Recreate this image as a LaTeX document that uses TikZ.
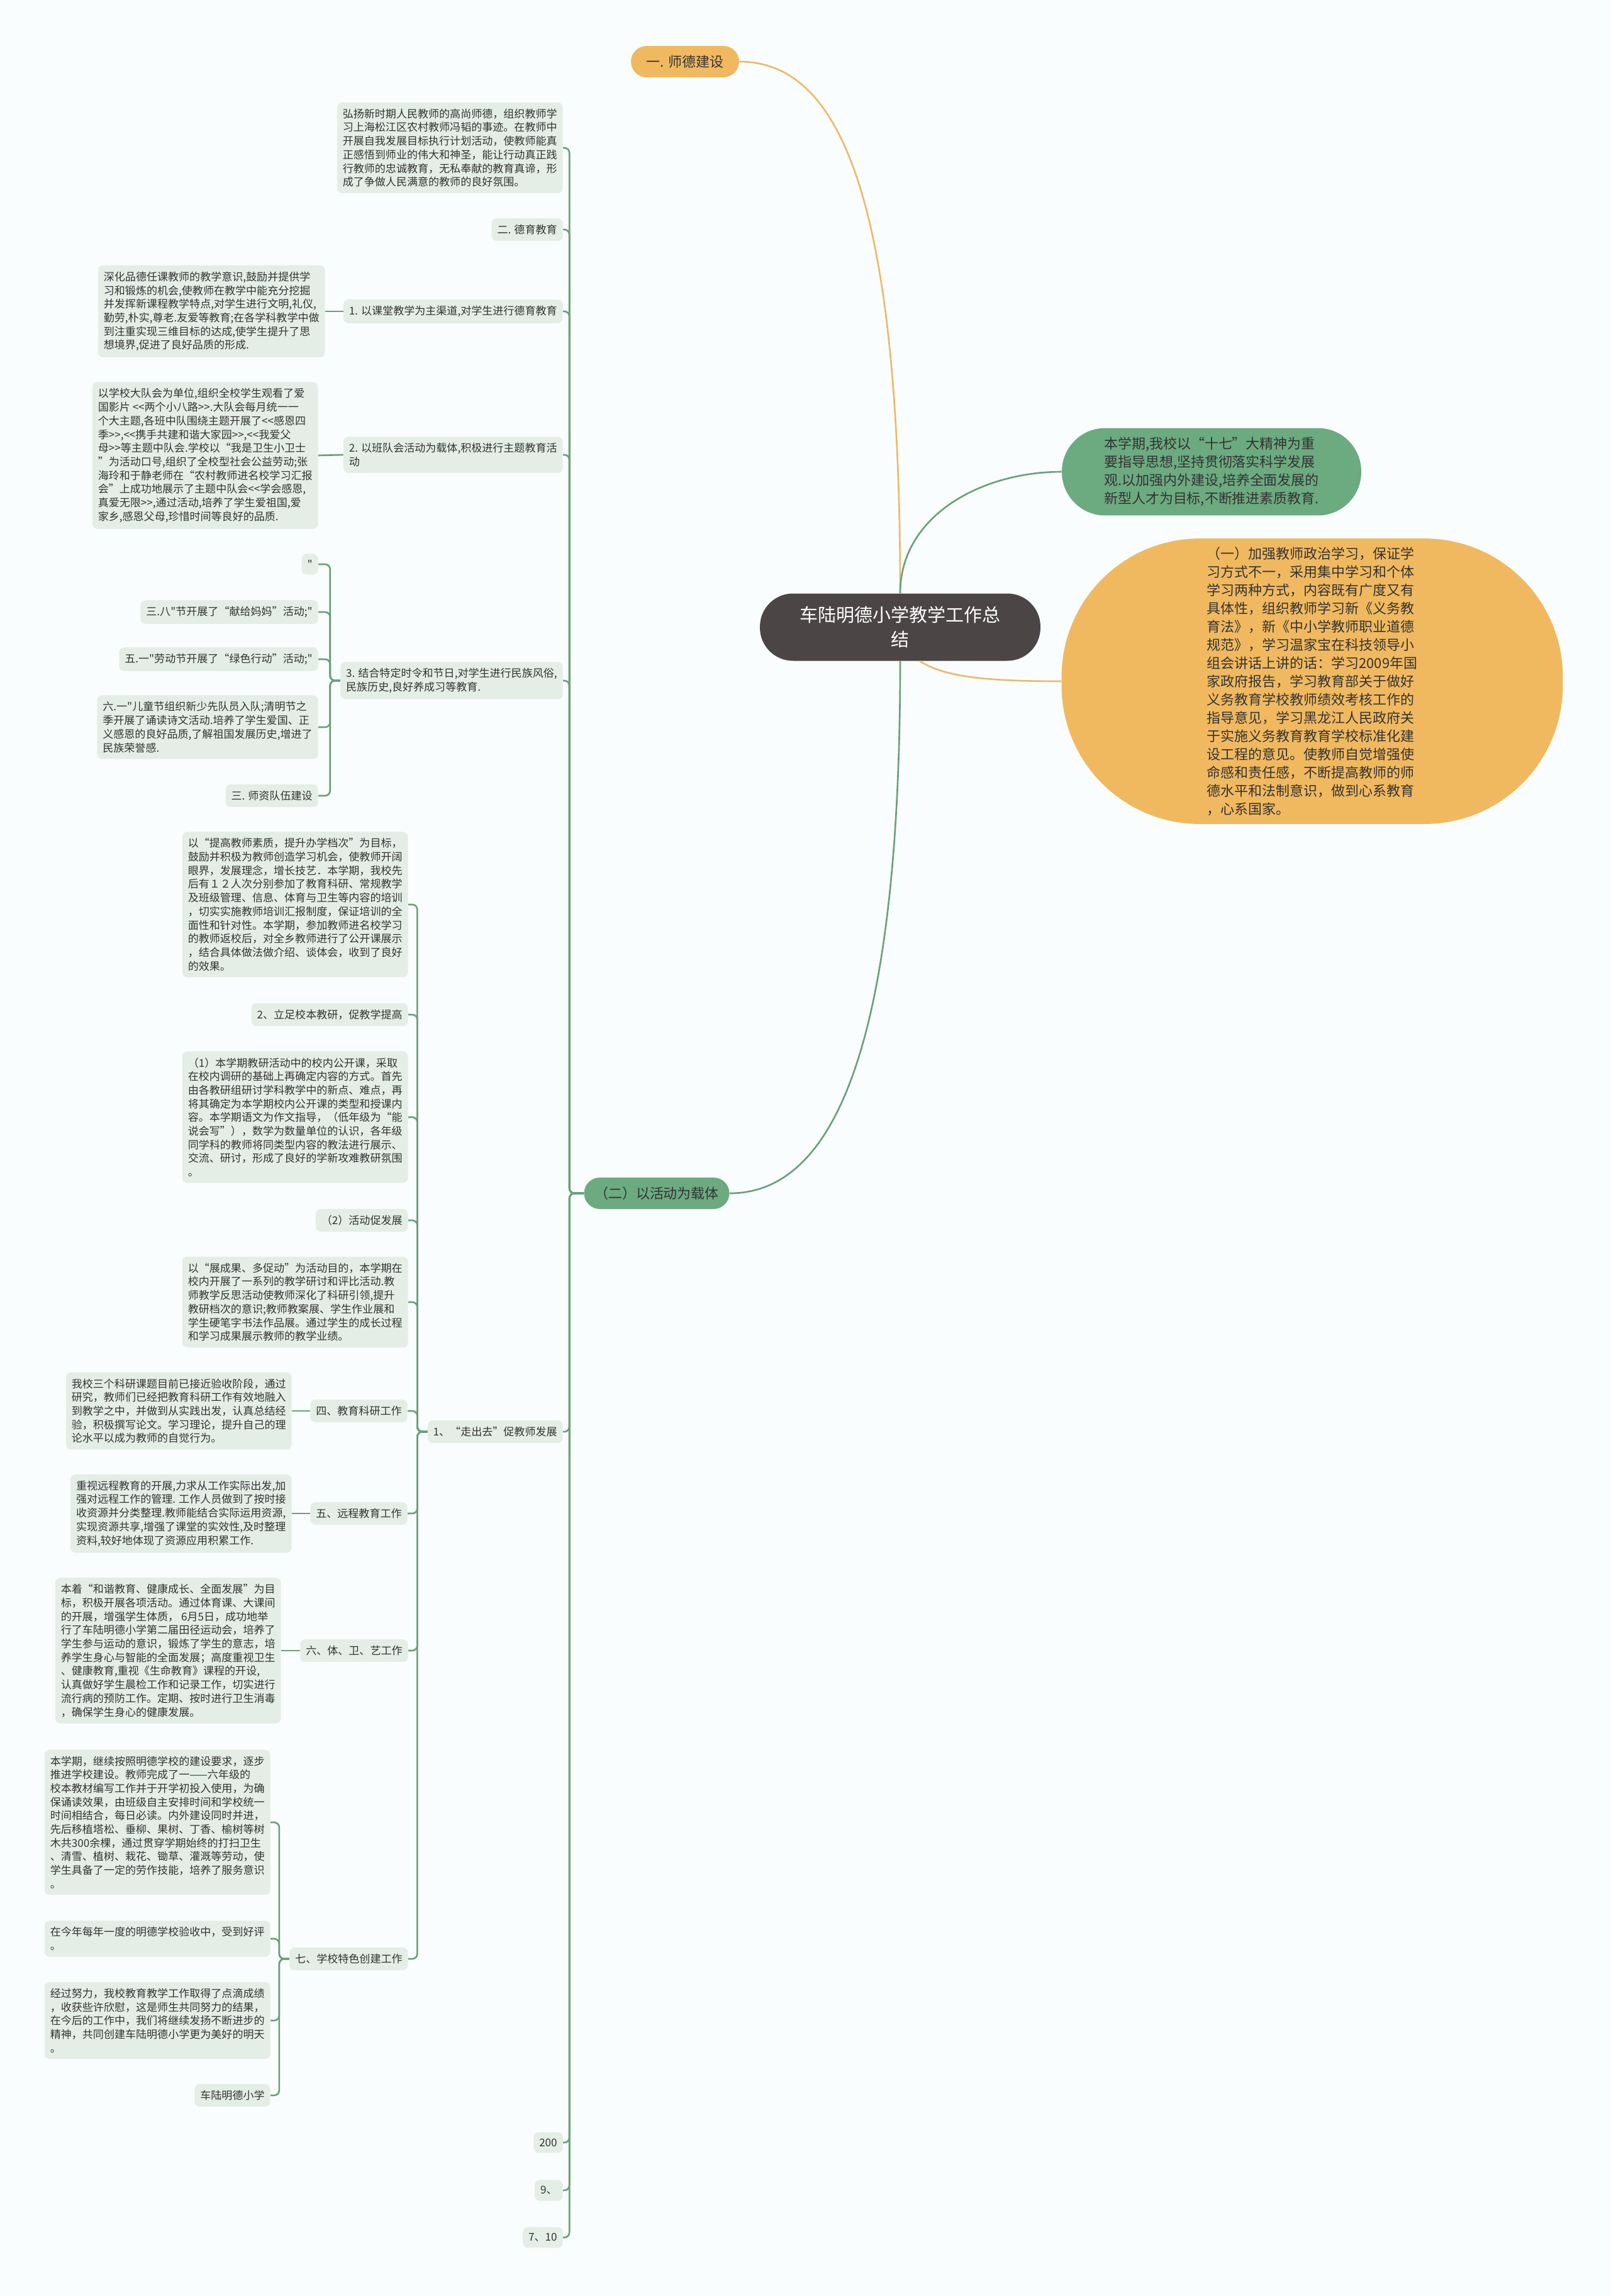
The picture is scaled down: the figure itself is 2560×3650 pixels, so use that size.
\documentclass[tikz,border=0pt]{standalone}
\usepackage{fontspec}
\newfontfamily\cjk{Noto Sans CJK SC}
\definecolor{pagebg}{HTML}{FAFDFD}
\definecolor{leafbg}{HTML}{E4EEE7}
\definecolor{leaftxt}{HTML}{333333}
\definecolor{ngreen}{HTML}{6CAA80}
\definecolor{norange}{HTML}{F0B960}
\definecolor{lgreen}{HTML}{6AA07A}
\definecolor{lorange}{HTML}{EDBA68}
\definecolor{rootbg}{HTML}{4B4546}

\begin{document}
\begin{tikzpicture}[x=0.02cm, y=-0.02cm,
  leaf/.style={anchor=east, fill=leafbg, text=leaftxt, rounded corners=0.16cm, inner xsep=0.18cm, inner ysep=0.2cm, align=left, font=\cjk\fontsize{9.7}{12.35}\selectfont},
  main/.style={text=leaftxt, inner sep=0pt, align=left, font=\cjk\fontsize{12.5}{16.5}\selectfont},
  gline/.style={draw=lgreen, line width=1.5pt, rounded corners=0.16cm},
  oline/.style={draw=lorange, line width=1.5pt}]
\fill[pagebg] (0,0) rectangle (2560,3650);
\useasboundingbox (0,0) rectangle (2560,3650);

\node[fill=rootbg, text=white, rounded corners=1.05cm, minimum width=8.92cm, minimum height=2.14cm, align=center, font=\cjk\fontsize{16.5}{22.2}\selectfont] (root) at (1431,997) {车陆明德小学教学工作总\\结};
\node[main, fill=norange, align=center, rounded corners=0.5cm, minimum width=3.44cm, minimum height=1cm] (sd) at (1089,98) {一. 师德建设};
\node[main, fill=ngreen, align=center, rounded corners=0.5cm, minimum width=4.62cm, minimum height=1cm] (act) at (1044,1897) {（二）以活动为载体};
\node[main, fill=ngreen, rounded corners=1.38cm, minimum width=9.52cm, minimum height=2.78cm] (aim) at (1926,750) {本学期,我校以“十七”大精神为重\\要指导思想,坚持贯彻落实科学发展\\观.以加强内外建设,培养全面发展的\\新型人才为目标,不断推进素质教育.};
\node[main, fill=norange, rounded corners=4.4cm, minimum width=15.94cm, minimum height=9.08cm] (pol) at (2086,1083) {（一）加强教师政治学习，保证学\\习方式不一，采用集中学习和个体\\学习两种方式，内容既有广度又有\\具体性，组织教师学习新《义务教\\育法》，新《中小学教师职业道德\\规范》，学习温家宝在科技领导小\\组会讲话上讲的话：学习2009年国\\家政府报告，学习教育部关于做好\\义务教育学校教师绩效考核工作的\\指导意见，学习黑龙江人民政府关\\于实施义务教育教育学校标准化建\\设工程的意见。使教师自觉增强使\\命感和责任感，不断提高教师的师\\德水平和法制意识，做到心系教育\\，心系国家。};

\node[leaf] (hy) at (895,235) {弘扬新时期人民教师的高尚师德，组织教师学\\习上海松江区农村教师冯韬的事迹。在教师中\\开展自我发展目标执行计划活动，使教师能真\\正感悟到师业的伟大和神圣，能让行动真正践\\行教师的忠诚教育，无私奉献的教育真谛，形\\成了争做人民满意的教师的良好氛围。};
\node[leaf] (dy) at (895,365) {二. 德育教育};
\node[leaf] (kt) at (895,495) {1. 以课堂教学为主渠道,对学生进行德育教育};
\node[leaf] (kttxt) at (517,495) {深化品德任课教师的教学意识,鼓励并提供学\\习和锻炼的机会,使教师在教学中能充分挖掘\\并发挥新课程教学特点,对学生进行文明,礼仪,\\勤劳,朴实,尊老.友爱等教育;在各学科教学中做\\到注重实现三维目标的达成,使学生提升了思\\想境界,促进了良好品质的形成.};
\node[leaf] (bd) at (895,723) {2. 以班队会活动为载体,积极进行主题教育活\\动};
\node[leaf] (bdtxt) at (506,724) {以学校大队会为单位,组织全校学生观看了爱\\国影片 <<两个小八路>>.大队会每月统一一\\个大主题,各班中队围绕主题开展了<<感恩四\\季>>,<<携手共建和谐大家园>>,<<我爱父\\母>>等主题中队会.学校以“我是卫生小卫士\\”为活动口号,组织了全校型社会公益劳动;张\\海玲和于静老师在“农村教师进名校学习汇报\\会”上成功地展示了主题中队会<<学会感恩,\\真爱无限>>,通过活动,培养了学生爱祖国,爱\\家乡,感恩父母,珍惜时间等良好的品质.};
\node[leaf] (jh) at (895,1082) {3. 结合特定时令和节日,对学生进行民族风俗,\\民族历史,良好养成习等教育.};
\node[leaf] (q1) at (506,897) {"};
\node[leaf] (sb) at (506,973) {三.八"节开展了“献给妈妈”活动;"};
\node[leaf] (wy) at (506,1048) {五.一"劳动节开展了“绿色行动”活动;"};
\node[leaf] (ly) at (506,1156) {六.一"儿童节组织新少先队员入队;清明节之\\季开展了诵读诗文活动.培养了学生爱国、正\\义感恩的良好品质,了解祖国发展历史,增进了\\民族荣誉感.};
\node[leaf] (sz) at (506,1265) {三. 师资队伍建设};

\node[leaf] (zc) at (895,2276) {1、“走出去”促教师发展};
\node[leaf] (ts) at (649,1438) {以“提高教师素质，提升办学档次”为目标，\\鼓励并积极为教师创造学习机会，使教师开阔\\眼界，发展理念，增长技艺．本学期，我校先\\后有１２人次分别参加了教育科研、常规教学\\及班级管理、信息、体育与卫生等内容的培训\\，切实实施教师培训汇报制度，保证培训的全\\面性和针对性。本学期，参加教师进名校学习\\的教师返校后，对全乡教师进行了公开课展示\\，结合具体做法做介绍、谈体会，收到了良好\\的效果。};
\node[leaf] (lz) at (649,1613) {2、立足校本教研，促教学提高};
\node[leaf] (p1) at (649,1776) {（1）本学期教研活动中的校内公开课，采取\\在校内调研的基础上再确定内容的方式。首先\\由各教研组研讨学科教学中的新点、难点，再\\将其确定为本学期校内公开课的类型和授课内\\容。本学期语文为作文指导，（低年级为“能\\说会写”），数学为数量单位的认识，各年级\\同学科的教师将同类型内容的教法进行展示、\\交流、研讨，形成了良好的学新攻难教研氛围\\。};
\node[leaf] (p2) at (649,1940) {（2）活动促发展};
\node[leaf] (zcg) at (649,2070) {以“展成果、多促动”为活动目的，本学期在\\校内开展了一系列的教学研讨和评比活动.教\\师教学反思活动使教师深化了科研引领,提升\\教研档次的意识;教师教案展、学生作业展和\\学生硬笔字书法作品展。通过学生的成长过程\\和学习成果展示教师的教学业绩。};
\node[leaf] (ky) at (648,2243) {四、教育科研工作};
\node[leaf] (kytxt) at (464,2243) {我校三个科研课题目前已接近验收阶段，通过\\研究，教师们已经把教育科研工作有效地融入\\到教学之中，并做到从实践出发，认真总结经\\验，积极撰写论文。学习理论，提升自己的理\\论水平以成为教师的自觉行为。};
\node[leaf] (yc) at (648,2406) {五、远程教育工作};
\node[leaf] (yctxt) at (464,2406) {重视远程教育的开展,力求从工作实际出发,加\\强对远程工作的管理. 工作人员做到了按时接\\收资源并分类整理.教师能结合实际运用资源,\\实现资源共享,增强了课堂的实效性,及时整理\\资料,较好地体现了资源应用积累工作.};
\node[leaf] (tw) at (649,2624) {六、体、卫、艺工作};
\node[leaf] (twtxt) at (447,2624) {本着“和谐教育、健康成长、全面发展”为目\\标，积极开展各项活动。通过体育课、大课间\\的开展，增强学生体质， 6月5日，成功地举\\行了车陆明德小学第二届田径运动会，培养了\\学生参与运动的意识，锻炼了学生的意志，培\\养学生身心与智能的全面发展；高度重视卫生\\、健康教育,重视《生命教育》课程的开设,\\认真做好学生晨检工作和记录工作，切实进行\\流行病的预防工作。定期、按时进行卫生消毒\\，确保学生身心的健康发展。};
\node[leaf] (qi) at (649,3114) {七、学校特色创建工作};
\node[leaf] (jx) at (430,2897) {本学期，继续按照明德学校的建设要求，逐步\\推进学校建设。教师完成了一——六年级的\\校本教材编写工作并于开学初投入使用，为确\\保诵读效果，由班级自主安排时间和学校统一\\时间相结合，每日必读。内外建设同时并进，\\先后移植塔松、垂柳、果树、丁香、榆树等树\\木共300余棵，通过贯穿学期始终的打扫卫生\\、清雪、植树、栽花、锄草、灌溉等劳动，使\\学生具备了一定的劳作技能，培养了服务意识\\。};
\node[leaf] (ys) at (430,3082) {在今年每年一度的明德学校验收中，受到好评\\。};
\node[leaf] (jg) at (430,3212) {经过努力，我校教育教学工作取得了点滴成绩\\，收获些许欣慰，这是师生共同努力的结果，\\在今后的工作中，我们将继续发扬不断进步的\\精神，共同创建车陆明德小学更为美好的明天\\。};
\node[leaf] (cl) at (430,3331) {车陆明德小学};

\node[leaf] (n200) at (895,3406) {200};
\node[leaf] (n9) at (895,3482) {9、};
\node[leaf] (n710) at (895,3557) {7、10};

\draw[oline] (root.north) .. controls (1431,300) and (1330,98) .. (sd.east);
\draw[gline] (root.north) .. controls (1431,820) and (1560,750) .. (aim.west);
\draw[oline] (root.-60) .. controls (1500,1075) and (1560,1083) .. (pol.west);
\draw[gline] (root.south) .. controls (1431,1650) and (1330,1897) .. (act.east);

\foreach \c in {hy,dy,kt,bd,jh,zc,n200,n9,n710}
  \draw[gline] (act.west) -- ++(-23,0) |- (\c.east);
\foreach \c in {q1,sb,wy,ly,sz}
  \draw[gline] (jh.west) -- ++(-16,0) |- (\c.east);
\foreach \c in {ts,lz,p1,p2,zcg,ky,yc,tw,qi}
  \draw[gline] (zc.west) -- ++(-16,0) |- (\c.east);
\foreach \c in {jx,ys,jg,cl}
  \draw[gline] (qi.west) -- ++(-16,0) |- (\c.east);
\draw[gline] (kt.west) -- (kttxt.east);
\draw[gline] (bd.west) -- (bdtxt.east);
\draw[gline] (ky.west) -- (kytxt.east);
\draw[gline] (yc.west) -- (yctxt.east);
\draw[gline] (tw.west) -- (twtxt.east);
\end{tikzpicture}
\end{document}
